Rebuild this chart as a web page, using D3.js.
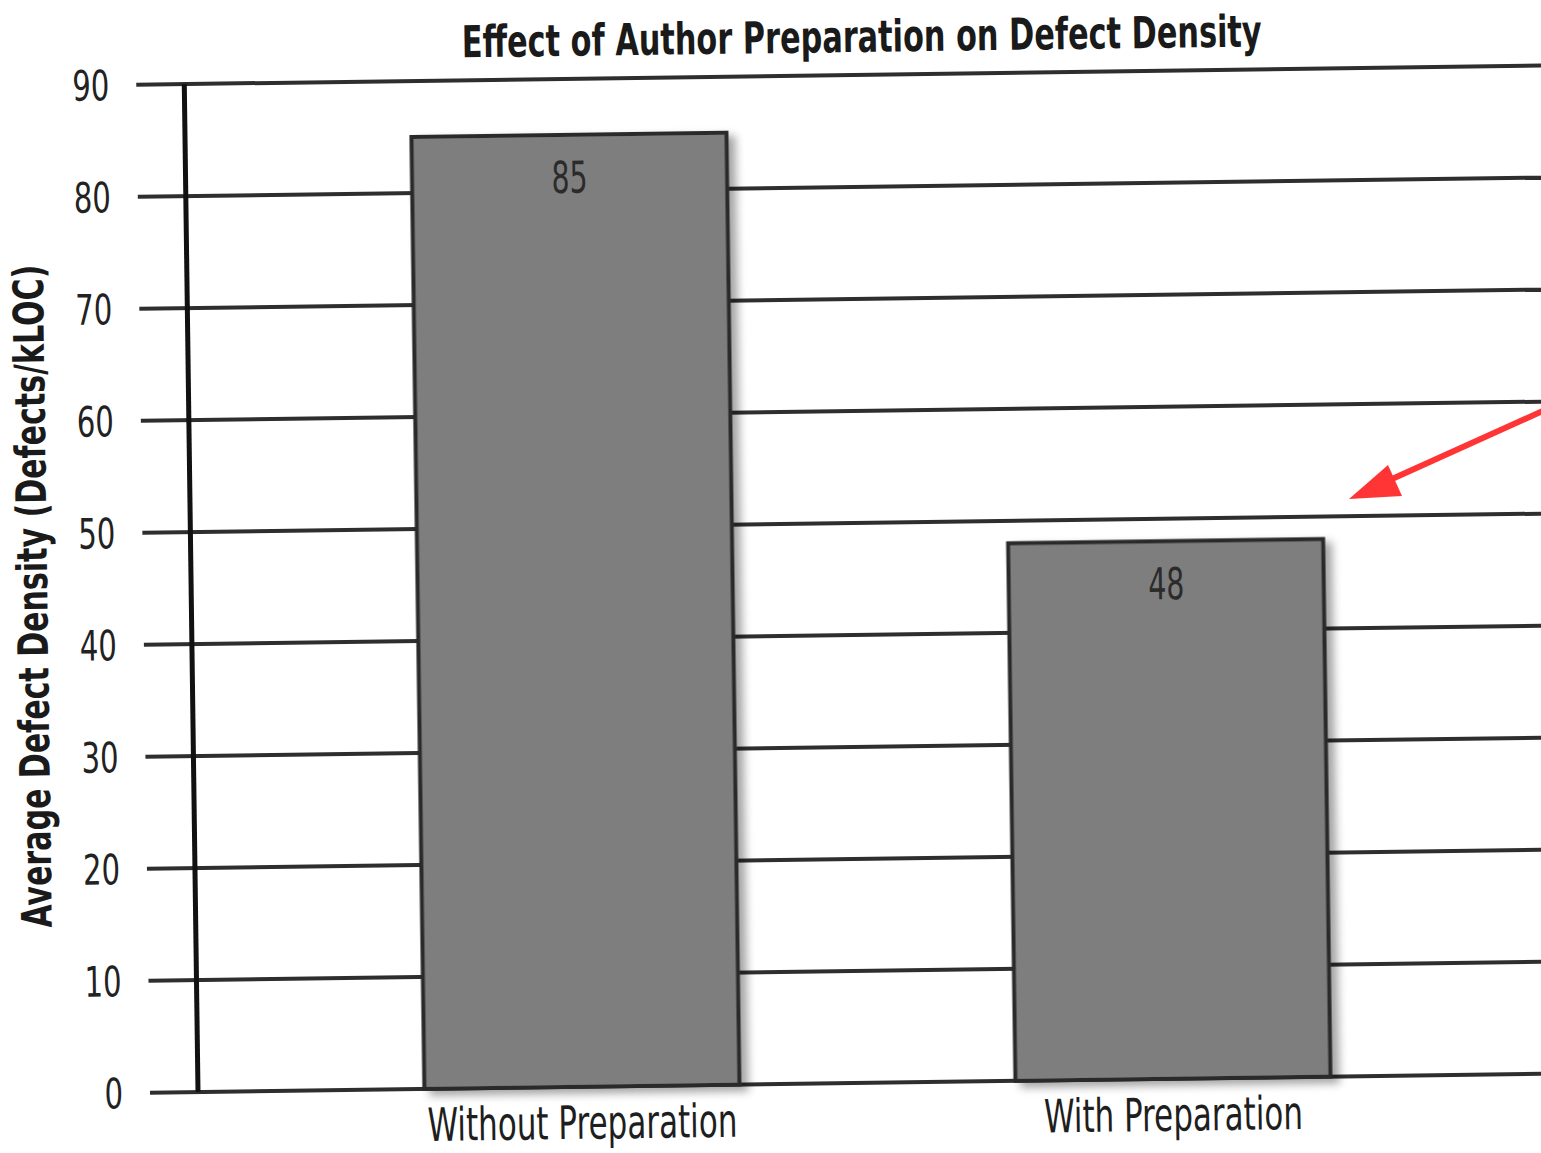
<!DOCTYPE html>
<html>
<head>
<meta charset="utf-8">
<script src="https://cdn.jsdelivr.net/npm/d3@7"></script>
<style>
  html, body { margin: 0; padding: 0; background: #fff; }
  svg { display: block; }
  text { font-family: "Liberation Sans Narrow", "DejaVu Sans Condensed", "Open Sans", sans-serif; }
</style>
</head>
<body>
<svg id="chart" width="1541" height="1153"></svg>
<script>
// ---- data ----
const categories = ["Without Preparation", "With Preparation"];
const values = [85, 48];
const yTicks = [0, 10, 20, 30, 40, 50, 60, 70, 80, 90];
const titleText = "Effect of Author Preparation on Defect Density";
const yAxisTitle = "Average Defect Density (Defects/kLOC)";

// ---- layout ----
const originX = 198, originY = 1092;   // where value 0 meets the y axis
const topY = 84;                         // value 90
const tilt = -0.78;                      // page is photographed slightly rotated

const svg = d3.select("#chart");

const defs = svg.append("defs");
const f = defs.append("filter").attr("id", "shadow").attr("x", "-10%").attr("y", "-10%").attr("width", "130%").attr("height", "130%");
f.append("feDropShadow").attr("dx", 7).attr("dy", 5).attr("stdDeviation", 4)
  .attr("flood-color", "#000").attr("flood-opacity", 0.35);

const g = svg.append("g").attr("transform", `rotate(${tilt},${originX},${originY})`);

const y = d3.scaleLinear().domain([0, 90]).range([originY, topY]);
const x = d3.scaleBand().domain(categories).range([188, 1567])
  .paddingInner(0.467).paddingOuter(0.4);

// gridlines
g.append("g").selectAll("line").data(yTicks).join("line")
  .attr("x1", 150).attr("x2", 1580)
  .attr("y1", d => y(d)).attr("y2", d => y(d))
  .attr("stroke", "#2e2e2e").attr("stroke-width", 4);

// y axis line
g.append("line")
  .attr("x1", originX).attr("x2", originX)
  .attr("y1", y(0)).attr("y2", y(90))
  .attr("stroke", "#111").attr("stroke-width", 5);

// tick labels
g.append("g").selectAll("text").data(yTicks).join("text")
  .attr("x", 123).attr("y", d => y(d))
  .attr("dy", "0.36em")
  .attr("text-anchor", "end")
  .attr("font-size", 42)
  .attr("fill", "#222")
  .attr("textLength", d => String(d).length * 18.5)
  .attr("lengthAdjust", "spacingAndGlyphs")
  .text(d => d);

// bars
const bars = g.append("g");
bars.selectAll("rect").data(values).join("rect")
  .attr("x", (d, i) => x(categories[i]))
  .attr("y", d => y(d))
  .attr("width", x.bandwidth())
  .attr("height", d => y(0) - y(d))
  .attr("fill", "#7e7e7e")
  .attr("stroke", "#2a2a2a")
  .attr("stroke-width", 4)
  .attr("filter", "url(#shadow)");

// value labels
bars.selectAll("text").data(values).join("text")
  .attr("x", (d, i) => x(categories[i]) + x.bandwidth() / 2)
  .attr("y", d => y(d) + 58)
  .attr("text-anchor", "middle")
  .attr("font-size", 44)
  .attr("fill", "#2b2b2b")
  .attr("textLength", 36)
  .attr("lengthAdjust", "spacingAndGlyphs")
  .text(d => d);

// x labels
g.append("g").selectAll("text").data(categories).join("text")
  .attr("x", d => x(d) + x.bandwidth() / 2)
  .attr("y", y(0) + 52)
  .attr("text-anchor", "middle")
  .attr("font-size", 46)
  .attr("fill", "#1e1e1e")
  .attr("textLength", (d, i) => i === 0 ? 310 : 259)
  .attr("lengthAdjust", "spacingAndGlyphs")
  .text(d => d);

// title
g.append("text")
  .attr("x", 876).attr("y", 61)
  .attr("text-anchor", "middle")
  .attr("font-size", 44)
  .attr("font-weight", "bold")
  .attr("fill", "#1a1a1a")
  .attr("textLength", 800)
  .attr("lengthAdjust", "spacingAndGlyphs")
  .text(titleText);

// y axis title
g.append("text")
  .attr("transform", `translate(54,594) rotate(-90)`)
  .attr("text-anchor", "middle")
  .attr("font-size", 42)
  .attr("font-weight", "bold")
  .attr("fill", "#1a1a1a")
  .attr("textLength", 663)
  .attr("lengthAdjust", "spacingAndGlyphs")
  .text(yAxisTitle);

// red annotation arrow (drawn on the photo)
const arrow = svg.append("g");
arrow.append("line")
  .attr("x1", 1545).attr("y1", 410)
  .attr("x2", 1392).attr("y2", 479)
  .attr("stroke", "#ff3535").attr("stroke-width", 6);
arrow.append("polygon")
  .attr("points", "1349,499 1388,465 1402,496")
  .attr("fill", "#ff3535");
</script>
</body>
</html>
